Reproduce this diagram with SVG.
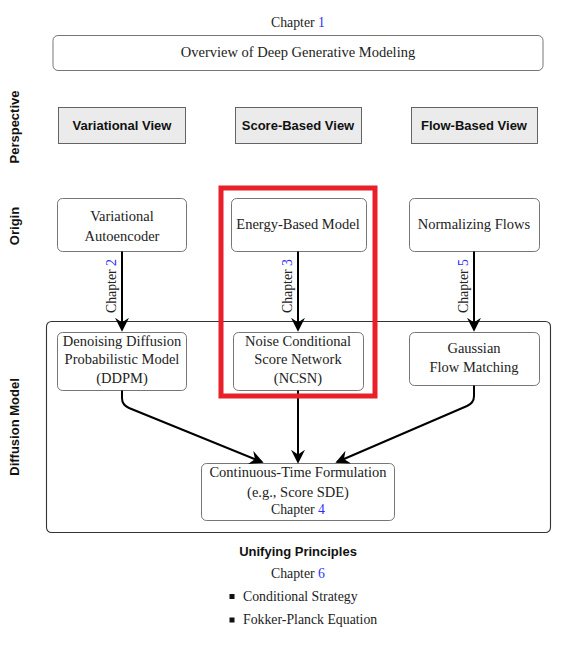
<svg xmlns="http://www.w3.org/2000/svg" width="573" height="645" viewBox="0 0 573 645">
<style>
.serif{font-family:"Liberation Serif","DejaVu Serif",serif;font-size:14.5px;fill:#222}
.small{font-size:13.8px}
.sans{font-family:"Liberation Sans","DejaVu Sans",sans-serif;font-weight:bold;font-size:13px;fill:#111}
.num{fill:#2f2fff}
.rbox{fill:#fff;stroke:#666;stroke-width:0.9}
.gbox{fill:#ebebeb;stroke:#555;stroke-width:0.9}
.conn{fill:none;stroke:#000;stroke-width:2}
</style>
<defs>
<marker id="ah" viewBox="0 0 12 12" refX="10.5" refY="6" markerWidth="7" markerHeight="7" markerUnits="strokeWidth" orient="auto">
<path d="M0,0 L12,6 L0,12 L4,6 Z" fill="#000"/>
</marker>
</defs>
<rect width="573" height="645" fill="#fff"/>

<g id="side-labels">
<text class="sans" transform="translate(19,127) rotate(-90)" text-anchor="middle">Perspective</text>
<text class="sans" transform="translate(19,226) rotate(-90)" text-anchor="middle">Origin</text>
<text class="sans" transform="translate(19,427) rotate(-90)" text-anchor="middle">Diffusion Model</text>
</g>

<g id="overview">
<text class="serif small" x="298" y="27" text-anchor="middle">Chapter <tspan class="num">1</tspan></text>
<rect class="rbox" x="53" y="35.5" width="490" height="35" rx="5" stroke="#444"/>
<text class="serif" x="298" y="57" text-anchor="middle">Overview of Deep Generative Modeling</text>
</g>

<g id="variational-view">
<rect class="gbox" x="58.5" y="107.5" width="127" height="36"/>
<text class="sans" x="122" y="130" text-anchor="middle">Variational View</text>
</g>
<g id="score-view">
<rect class="gbox" x="235.5" y="107.5" width="126" height="36"/>
<text class="sans" x="298" y="130" text-anchor="middle">Score-Based View</text>
</g>
<g id="flow-view">
<rect class="gbox" x="411.5" y="107.5" width="126" height="36"/>
<text class="sans" x="474" y="130" text-anchor="middle">Flow-Based View</text>
</g>

<g id="diffusion-container">
<rect x="46.5" y="321.5" width="504" height="211" rx="5" fill="none" stroke="#333" stroke-width="1.1"/>
</g>

<g id="vae">
<rect class="rbox" x="57.5" y="198.5" width="129" height="53" rx="5"/>
<text class="serif" x="122" y="221" text-anchor="middle">Variational</text>
<text class="serif" x="122" y="241" text-anchor="middle">Autoencoder</text>
</g>
<g id="ebm">
<rect class="rbox" x="231.5" y="198.5" width="135" height="53" rx="5"/>
<text class="serif" x="298" y="229" text-anchor="middle">Energy-Based Model</text>
</g>
<g id="nf">
<rect class="rbox" x="409.5" y="198.5" width="130" height="53" rx="5"/>
<text class="serif" x="474" y="229" text-anchor="middle">Normalizing Flows</text>
</g>

<g id="ddpm">
<rect class="rbox" x="57.5" y="332.5" width="129" height="58" rx="5"/>
<text class="serif" x="122" y="346" text-anchor="middle">Denoising Diffusion</text>
<text class="serif" x="122" y="364" text-anchor="middle">Probabilistic Model</text>
<text class="serif" x="122" y="383" text-anchor="middle">(DDPM)</text>
</g>
<g id="ncsn">
<rect class="rbox" x="233.5" y="332.5" width="130" height="58" rx="5"/>
<text class="serif" x="298" y="346" text-anchor="middle">Noise Conditional</text>
<text class="serif" x="298" y="364" text-anchor="middle">Score Network</text>
<text class="serif" x="298" y="383" text-anchor="middle">(NCSN)</text>
</g>
<g id="gfm">
<rect class="rbox" x="409.5" y="332.5" width="130" height="53" rx="5"/>
<text class="serif" x="474" y="353" text-anchor="middle">Gaussian</text>
<text class="serif" x="474" y="372" text-anchor="middle">Flow Matching</text>
</g>

<g id="continuous">
<rect class="rbox" x="201.5" y="463.5" width="193" height="57" rx="5"/>
<text class="serif" x="298" y="477" text-anchor="middle">Continuous-Time Formulation</text>
<text class="serif" x="298" y="497" text-anchor="middle">(e.g., Score SDE)</text>
<text class="serif small" x="298" y="514" text-anchor="middle">Chapter <tspan class="num">4</tspan></text>
</g>

<g id="connectors">
<line class="conn" x1="122" y1="251.5" x2="122" y2="330" marker-end="url(#ah)"/>
<line class="conn" x1="298" y1="251.5" x2="298" y2="330" marker-end="url(#ah)"/>
<line class="conn" x1="474" y1="251.5" x2="474" y2="330" marker-end="url(#ah)"/>
<text class="serif small" transform="translate(116,286) rotate(-90)" text-anchor="middle">Chapter <tspan class="num">2</tspan></text>
<text class="serif small" transform="translate(292,286) rotate(-90)" text-anchor="middle">Chapter <tspan class="num">3</tspan></text>
<text class="serif small" transform="translate(468,286) rotate(-90)" text-anchor="middle">Chapter <tspan class="num">5</tspan></text>
<path class="conn" d="M122,390.5 L122,398 Q122,405 129,408 L262,462" marker-end="url(#ah)"/>
<line class="conn" x1="298" y1="390.5" x2="298" y2="462" marker-end="url(#ah)"/>
<path class="conn" d="M474,385.5 L474,396 Q474,403 467,406 L337,462" marker-end="url(#ah)"/>
</g>

<g id="highlight">
<rect x="221" y="188" width="154" height="208" fill="none" stroke="#e8202a" stroke-width="5"/>
</g>

<g id="unifying">
<text class="sans" x="298" y="556" text-anchor="middle">Unifying Principles</text>
<text class="serif small" x="298" y="578" text-anchor="middle">Chapter <tspan class="num">6</tspan></text>
<rect x="229.5" y="594" width="5" height="5" fill="#111"/>
<text class="serif small" x="243" y="601">Conditional Strategy</text>
<rect x="229.5" y="617.5" width="5" height="5" fill="#111"/>
<text class="serif small" x="243" y="624">Fokker-Planck Equation</text>
</g>
</svg>
